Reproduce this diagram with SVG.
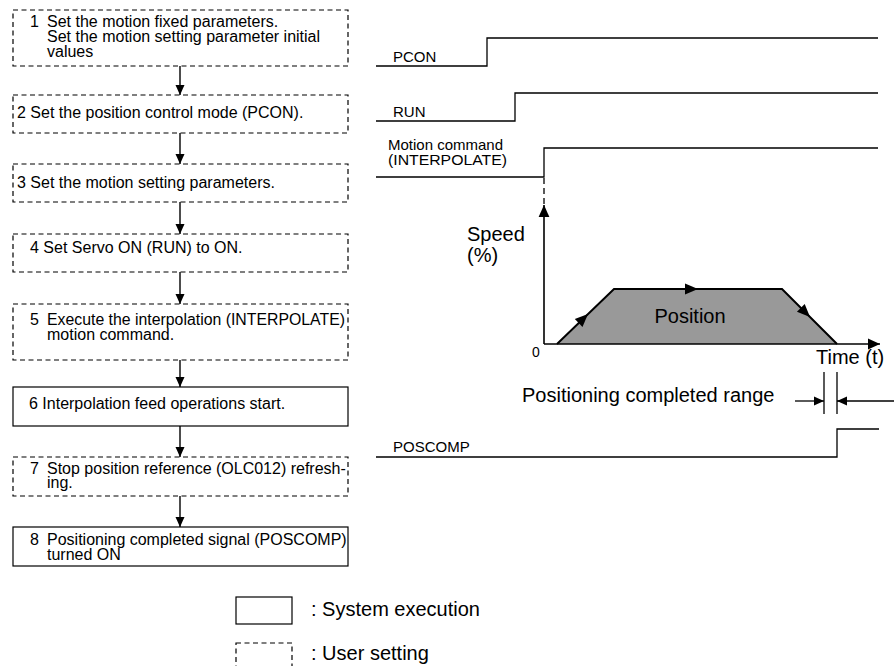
<svg xmlns="http://www.w3.org/2000/svg" xmlns:xlink="http://www.w3.org/1999/xlink" width="896" height="666" viewBox="0 0 896 666">
<style>
text{font-family:"Liberation Sans",Arial,Helvetica,sans-serif;fill:#000}
.bt{font-size:16px}
.sl{font-size:15px}
.lg{font-size:20px}
.box{fill:#fff;stroke:#000;stroke-width:1.2}
.user{stroke-dasharray:5 3.5}
.ln{fill:none;stroke:#000;stroke-width:1.4}
.sig{fill:none;stroke:#000;stroke-width:1.3}
.axis{fill:none;stroke:#000;stroke-width:1.6}
</style>
<defs>
<marker id="ah" viewBox="0 0 10 10" refX="10" refY="5" markerWidth="10" markerHeight="10" markerUnits="userSpaceOnUse" orient="auto">
<path d="M0,0.5 L10,5 L0,9.5 Z" fill="#000"/>
</marker>
<marker id="ah2" viewBox="0 0 10 10" refX="10" refY="5" markerWidth="12" markerHeight="12" markerUnits="userSpaceOnUse" orient="auto">
<path d="M0,0.5 L10,5 L0,9.5 Z" fill="#000"/>
</marker>
<path id="tri" d="M0,0 L-13,-5.5 L-13,5.5 Z" fill="#000"/>
</defs>

<g id="step1">
<rect class="box user" x="13" y="10" width="335" height="56"/>
<text class="bt" x="30" y="27">1</text>
<text class="bt" x="47" y="27">Set the motion fixed parameters.</text>
<text class="bt" x="47" y="42">Set the motion setting parameter initial</text>
<text class="bt" x="47" y="57">values</text>
</g>
<g id="step2">
<rect class="box user" x="13" y="95" width="335" height="38"/>
<text class="bt" x="17" y="118">2 Set the position control mode (PCON).</text>
</g>
<g id="step3">
<rect class="box user" x="13" y="164" width="335" height="38"/>
<text class="bt" x="17" y="188">3 Set the motion setting parameters.</text>
</g>
<g id="step4">
<rect class="box user" x="13" y="234" width="335" height="38"/>
<text class="bt" x="30" y="253">4 Set Servo ON (RUN) to ON.</text>
</g>
<g id="step5">
<rect class="box user" x="13" y="304" width="335" height="56"/>
<text class="bt" x="30" y="325">5</text>
<text class="bt" x="47" y="325" textLength="298" lengthAdjust="spacingAndGlyphs">Execute the interpolation (INTERPOLATE)</text>
<text class="bt" x="47" y="340">motion command.</text>
</g>
<g id="step6">
<rect class="box" x="13" y="387" width="335" height="39"/>
<text class="bt" x="29" y="409">6 Interpolation feed operations start.</text>
</g>
<g id="step7">
<rect class="box user" x="13" y="457" width="335" height="39"/>
<text class="bt" x="30" y="474">7</text>
<text class="bt" x="47" y="474">Stop position reference (OLC012) refresh-</text>
<text class="bt" x="47" y="488">ing.</text>
</g>
<g id="step8">
<rect class="box" x="13" y="527" width="335" height="39"/>
<text class="bt" x="30" y="545">8</text>
<text class="bt" x="47" y="545">Positioning completed signal (POSCOMP)</text>
<text class="bt" x="47" y="560">turned ON</text>
</g>

<g id="connectors">
<line class="ln" x1="180" y1="66" x2="180" y2="95" marker-end="url(#ah)"/>
<line class="ln" x1="180" y1="133" x2="180" y2="164" marker-end="url(#ah)"/>
<line class="ln" x1="180" y1="202" x2="180" y2="234" marker-end="url(#ah)"/>
<line class="ln" x1="180" y1="272" x2="180" y2="304" marker-end="url(#ah)"/>
<line class="ln" x1="180" y1="360" x2="180" y2="387" marker-end="url(#ah)"/>
<line class="ln" x1="180" y1="426" x2="180" y2="457" marker-end="url(#ah)"/>
<line class="ln" x1="180" y1="496" x2="180" y2="527" marker-end="url(#ah)"/>
</g>

<g id="signals">
<polyline class="sig" points="376,66 487,66 487,38 878,38"/>
<text class="sl" x="393" y="62">PCON</text>
<polyline class="sig" points="376,121 515,121 515,93 878,93"/>
<text class="sl" x="393" y="117">RUN</text>
<polyline class="sig" points="376,177 544,177 544,148 878,148"/>
<text class="sl" x="388" y="150">Motion command</text>
<text class="sl" x="388" y="165" textLength="119" lengthAdjust="spacingAndGlyphs">(INTERPOLATE)</text>
<polyline class="sig" points="376,457 837,457 837,429 879,429"/>
<text class="sl" x="393" y="452">POSCOMP</text>
</g>

<g id="speed-graph">
<polygon points="557,344 614,289 782,289 837,344" fill="#999"/>
<polyline points="557,344 614,289 782,289 837,344" fill="none" stroke="#000" stroke-width="2"/>
<line class="sig" x1="544" y1="178" x2="544" y2="205" stroke-dasharray="6 4"/>
<line class="axis" x1="544" y1="344" x2="544" y2="205" marker-end="url(#ah2)"/>
<line class="axis" x1="544" y1="344" x2="880" y2="344" marker-end="url(#ah2)"/>
<use xlink:href="#tri" transform="translate(588,314) rotate(-44)"/>
<use xlink:href="#tri" transform="translate(698,289)"/>
<use xlink:href="#tri" transform="translate(810,317) rotate(45)"/>
<text class="lg" x="690" y="323" text-anchor="middle">Position</text>
<text class="lg" x="467" y="241">Speed</text>
<text class="lg" x="467" y="262">(%)</text>
<text x="532" y="357" font-size="14">0</text>
<text class="lg" x="816" y="364">Time (t)</text>
</g>

<g id="range">
<line class="sig" x1="824" y1="372" x2="824" y2="414"/>
<line class="sig" x1="837" y1="372" x2="837" y2="414"/>
<line class="sig" x1="795" y1="401" x2="824" y2="401" marker-end="url(#ah)"/>
<line class="sig" x1="894" y1="401" x2="837" y2="401" marker-end="url(#ah)"/>
<text class="lg" x="522" y="402">Positioning completed range</text>
</g>

<g id="legend">
<rect class="box" x="236" y="597" width="56" height="27"/>
<text class="lg" x="311" y="616">: System execution</text>
<rect class="box user" x="236" y="643" width="56" height="30"/>
<text class="lg" x="311" y="660">: User setting</text>
</g>
</svg>
